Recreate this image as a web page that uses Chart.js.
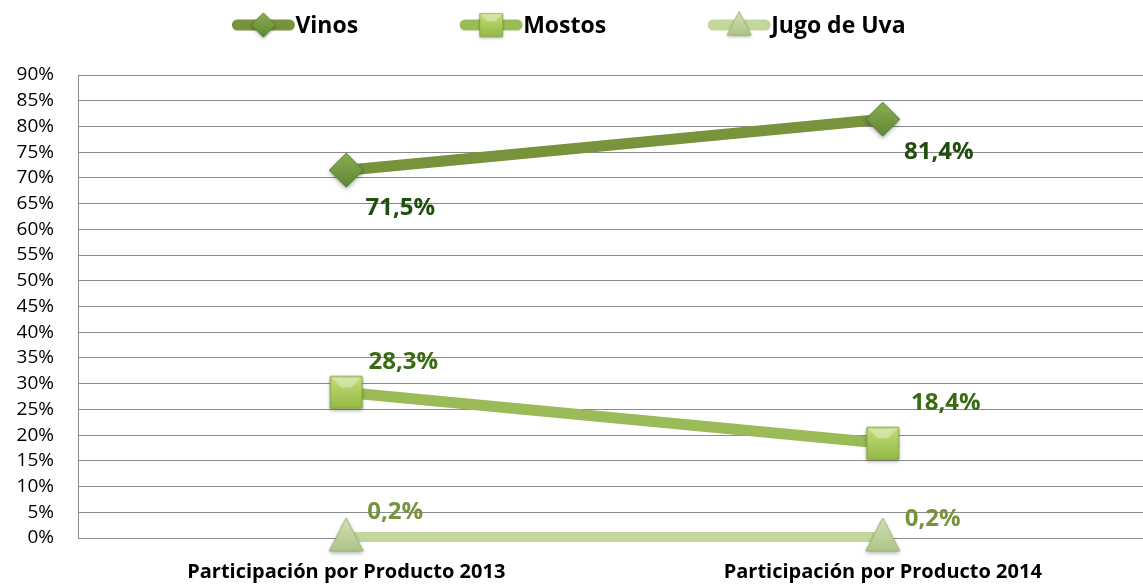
<!DOCTYPE html>
<html>
<head>
<meta charset="utf-8">
<script src="https://cdn.jsdelivr.net/npm/chart.js@4/dist/chart.umd.min.js"></script>
<style>
  html, body { margin: 0; padding: 0; background: #fff; overflow: hidden; }
  #wrap { width: 1143px; height: 584px; overflow: hidden; }
</style>
</head>
<body>
<div id="wrap"><canvas id="chart" width="1166" height="584"></canvas></div>
<script>
// data
var categories = ['Participación por Producto 2013', 'Participación por Producto 2014']
var seriesNames = ['Vinos', 'Mostos', 'Jugo de Uva']
var vinos = [71.5, 81.4]
var mostos = [28.3, 18.4]
var jugo = [0.2, 0.2]
var yMax = 90
var yStep = 5

// marker images with a bit of bevel + shadow, like the office chart
function makeMarker(kind, top, bottom, edge) {
    var c = document.createElement('canvas')
    c.width = 46; c.height = 46
    var g = c.getContext('2d')
    var cx = 23, cy = 23
    g.beginPath()
    if (kind == 'diamond') {
        g.moveTo(cx, cy - 17); g.lineTo(cx + 17, cy); g.lineTo(cx, cy + 17); g.lineTo(cx - 17, cy)
    } else if (kind == 'square') {
        g.rect(cx - 16, cy - 16, 32, 32)
    } else {
        g.moveTo(cx, cy - 19); g.lineTo(cx + 17, cy + 14); g.lineTo(cx - 17, cy + 14)
    }
    g.closePath()
    var grad = g.createLinearGradient(0, cy - 20, 0, cy + 20)
    grad.addColorStop(0, top)
    grad.addColorStop(1, bottom)
    g.save()
    g.shadowColor = 'rgba(0,0,0,0.35)'
    g.shadowBlur = 4
    g.shadowOffsetY = 2
    g.fillStyle = grad
    g.fill()
    g.restore()
    g.strokeStyle = edge
    g.lineWidth = 1
    g.stroke()
    if (kind == 'square') {
        // light bevel on the top
        g.beginPath()
        g.moveTo(cx - 15, cy - 15); g.lineTo(cx + 15, cy - 15); g.lineTo(cx + 5, cy - 5); g.lineTo(cx - 5, cy - 5)
        g.closePath()
        g.fillStyle = 'rgba(255,255,255,0.35)'
        g.fill()
    }
    return c
}

var mkVinos = makeMarker('diamond', '#8db255', '#5c8430', '#557a2c')
var mkMostos = makeMarker('square', '#c9e27f', '#8fb43f', '#7a9c36')
var mkJugo = makeMarker('triangle', '#d3e2b4', '#a6bf80', '#9ab276')

var lineColors = ['#77933C', '#9BBB59', '#C3D69B']
var labelColors = ['#1F4E0F', '#3A6B12', '#77933C']
var markers = [mkVinos, mkMostos, mkJugo]

// labels offset from the point (dx, dy), per series and per point
var labelOffsets = [
    [[54, 38], [56, 33]],
    [[57, -30], [63, -40]],
    [[49, -25], [50, -18]]
]

var labelsPlugin = {
    id: 'pointLabels',
    afterDatasetsDraw: function(chart) {
        var ctx = chart.ctx
        ctx.save()
        ctx.font = 'bold 24px "Open Sans"'
        ctx.textAlign = 'center'
        ctx.textBaseline = 'middle'
        chart.data.datasets.forEach(function(ds, i) {
            var meta = chart.getDatasetMeta(i)
            meta.data.forEach(function(pt, j) {
                var txt = ds.data[j].toFixed(1).replace('.', ',') + '%'
                ctx.fillStyle = labelColors[i]
                ctx.fillText(txt, pt.x + labelOffsets[i][j][0], pt.y + labelOffsets[i][j][1])
            })
        })
        ctx.restore()
    }
}

var legendPlugin = {
    id: 'lineLegend',
    afterDraw: function(chart) {
        var ctx = chart.ctx
        ctx.save()
        ctx.font = 'bold 23px "Open Sans"'
        ctx.textBaseline = 'middle'
        var lineLen = 62, gap = 102, y = 25
        var widths = seriesNames.map(function(n) { return lineLen + 1 + ctx.measureText(n).width })
        var total = widths.reduce(function(a, b) { return a + b }, 0) + gap * (widths.length - 1)
        var x = 569 - total / 2
        seriesNames.forEach(function(name, i) {
            ctx.strokeStyle = lineColors[i]
            ctx.lineWidth = 11
            ctx.lineCap = 'round'
            ctx.beginPath()
            ctx.moveTo(x + 5, y)
            ctx.lineTo(x + lineLen - 5, y)
            ctx.stroke()
            var m = markers[i]
            var s = 0.72
            ctx.drawImage(m, x + lineLen / 2 - m.width * s / 2, y - m.height * s / 2, m.width * s, m.height * s)
            ctx.fillStyle = '#000'
            ctx.fillText(name, x + lineLen + 1, y + 1)
            x += widths[i] + gap
        })
        ctx.restore()
    }
}

var chart = new Chart(document.getElementById('chart').getContext('2d'), {
    type: 'line',
    data: {
        labels: categories,
        datasets: [
            { label: seriesNames[0], data: vinos, borderColor: lineColors[0], borderWidth: 11, pointStyle: mkVinos, clip: false },
            { label: seriesNames[1], data: mostos, borderColor: lineColors[1], borderWidth: 11, pointStyle: mkMostos, clip: false },
            { label: seriesNames[2], data: jugo, borderColor: lineColors[2], borderWidth: 10, pointStyle: mkJugo, clip: false }
        ]
    },
    options: {
        responsive: false,
        devicePixelRatio: 1,
        animation: false,
        layout: { padding: { top: 75, left: 0, right: 0, bottom: 0 } },
        plugins: {
            legend: { display: false },
            tooltip: { enabled: false }
        },
        elements: { line: { tension: 0, borderCapStyle: 'butt' } },
        scales: {
            x: {
                offset: true,
                grid: { display: false, drawTicks: false },
                border: { display: true, color: '#8c8c8c', width: 1 },
                ticks: { color: '#000', font: { family: 'Open Sans', size: 20, weight: 'bold' }, padding: 22, maxRotation: 0 },
                afterFit: function(s) { s.height = 46 }
            },
            y: {
                min: 0,
                max: yMax,
                grid: { color: '#8c8c8c', lineWidth: 1, drawTicks: false },
                border: { display: true, color: '#8c8c8c', width: 1 },
                ticks: {
                    stepSize: yStep,
                    autoSkip: false,
                    color: '#000',
                    padding: 24,
                    font: { family: 'Open Sans', size: 19 },
                    callback: function(v) { return v + '%' }
                },
                afterFit: function(s) { s.width = 78 }
            }
        }
    },
    plugins: [labelsPlugin, legendPlugin]
})
</script>
</body>
</html>
